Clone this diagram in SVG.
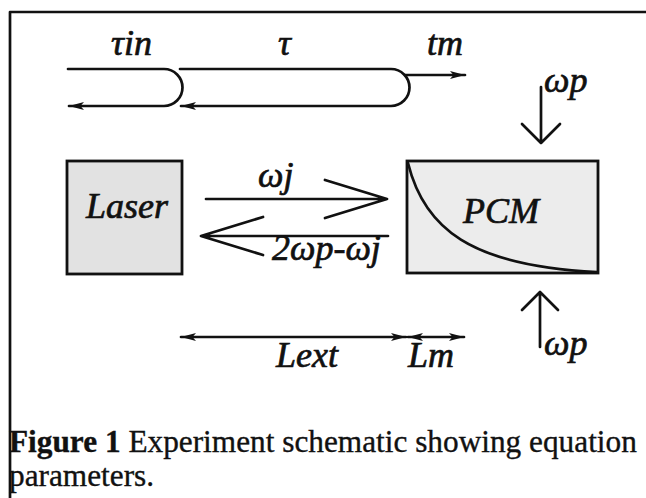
<svg xmlns="http://www.w3.org/2000/svg" width="646" height="498" viewBox="0 0 646 498">
<style>
.ln{fill:none;stroke:#111;stroke-width:2.7;stroke-linecap:round;stroke-linejoin:round}
.box{stroke:#111;stroke-width:2.8}
.lb{font-family:"Liberation Serif","DejaVu Serif",serif;font-style:italic;font-size:36px;fill:#111;stroke:#111;stroke-width:0.7}
.cap{font-family:"Liberation Serif","DejaVu Serif",serif;font-size:31.3px;fill:#111;stroke:#111;stroke-width:0.35}
</style>
<defs>
<marker id="ah" markerUnits="userSpaceOnUse" markerWidth="16" markerHeight="12" viewBox="0 0 16 12" refX="15" refY="6" orient="auto-start-reverse">
<path d="M0,2 L15,6 L0,10 L3.5,6 z" fill="#111"/>
</marker>
</defs>
<rect width="646" height="498" fill="#fff"/>
<g id="frame"><path class="ln" d="M10,498 V12 H646" stroke-width="3"/></g>
<g id="laser"><rect class="box" x="67" y="161" width="115" height="113" fill="#e2e2e2"/><text class="lb" x="86" y="218">Laser</text></g>
<g id="pcm"><rect class="box" x="407" y="161" width="191" height="112" fill="#ececec"/><path class="ln" d="M408,163 C424,228 470,266 597,272" stroke-width="3"/><text class="lb" x="463" y="223">PCM</text></g>
<g id="connectors">
<path class="ln" d="M68,69 H164 A18.5,18.5 0 0 1 164,106 H69" marker-end="url(#ah)"/>
<path class="ln" d="M180,69 H391 A18.5,18.5 0 0 1 391,106 H181" marker-end="url(#ah)"/>
<path class="ln" d="M405,75 H465" marker-end="url(#ah)"/>
<path class="ln" d="M541,87 V143 M522,124 L541,143 L560,124"/>
<path class="ln" d="M206,199 H387 M325,180 L387,199 L325,218"/>
<path class="ln" d="M388,236 H201 M263,217 L201,236 L263,255"/>
<path class="ln" d="M540,347 V292 M522,310 L540,292 L558,310"/>
<path class="ln" d="M181,337 H406" marker-start="url(#ah)" marker-end="url(#ah)"/>
<path class="ln" d="M408,337 H464" marker-start="url(#ah)" marker-end="url(#ah)"/>
</g>
<g id="labels">
<text class="lb" x="111" y="55">τin</text>
<text class="lb" x="278" y="55">τ</text>
<text class="lb" x="427" y="55">tm</text>
<text class="lb" x="544" y="92">ωp</text>
<text class="lb" x="258" y="187">ωj</text>
<text class="lb" x="272" y="260">2ωp-ωj</text>
<text class="lb" x="276" y="367">Lext</text>
<text class="lb" x="408" y="367">Lm</text>
<text class="lb" x="544" y="355">ωp</text>
</g>
<g id="caption">
<text class="cap" x="9" y="452"><tspan font-weight="bold">Figure 1</tspan>  Experiment schematic showing equation</text>
<text class="cap" x="9" y="486">parameters.</text>
</g>
</svg>
